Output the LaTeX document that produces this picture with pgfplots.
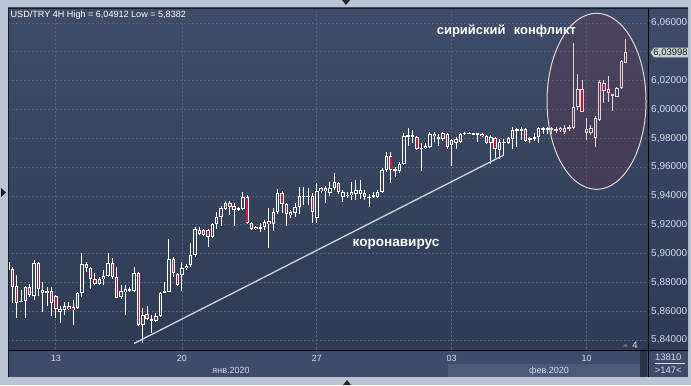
\documentclass[border=0pt]{standalone}
\usepackage{pgfplots}
\pgfplotsset{compat=1.18}
\usepackage{pgfplotstable}
\usepackage{fontspec}
\setmainfont{Liberation Sans}
\definecolor{outer}{HTML}{B9C5D5}
\definecolor{bgtop}{HTML}{3E4C67}
\definecolor{bgbot}{HTML}{2E3B55}
\definecolor{bgmid}{HTML}{38465F}
\definecolor{band}{HTML}{3E4C67}
\definecolor{bandlight}{HTML}{4B5A76}
\definecolor{scrollc}{HTML}{29334A}
\definecolor{gridc}{HTML}{56657F}
\definecolor{lbl}{HTML}{D2DDF0}
\definecolor{bear}{HTML}{E0102F}
\definecolor{ellfill}{RGB}{128,38,62}
\definecolor{ellline}{HTML}{E4D6DA}
\definecolor{trend}{HTML}{D0D2DA}
\definecolor{framec}{HTML}{161C28}
\definecolor{pricebox}{HTML}{CBD0D7}
\definecolor{markc}{HTML}{6A7890}

\pgfplotstableread{
x o h l c
1 5.8886 5.9163 5.8657 5.8941
2 5.8891 5.8909 5.8655 5.8770
3 5.8775 5.8851 5.8553 5.8657
4 5.8667 5.8747 5.8664 5.8674
5 5.8671 5.8775 5.8553 5.8770
6 5.8768 5.8789 5.8698 5.8712
7 5.8705 5.8955 5.8678 5.8936
8 5.8936 5.8943 5.8705 5.8752
9 5.8728 5.8805 5.8596 5.8747
10 5.8728 5.8770 5.8636 5.8742
11 5.8740 5.8770 5.8567 5.8655
12 5.8705 5.8712 5.8553 5.8613
13 5.8617 5.8636 5.8520 5.8596
14 5.8608 5.8666 5.8573 5.8636
15 5.8636 5.8666 5.8608 5.8613
16 5.8627 5.8678 5.8504 5.8608
17 5.8624 5.8735 5.8613 5.8724
18 5.8728 5.9004 5.8701 5.8925
19 5.8925 5.8943 5.8874 5.8898
20 5.8898 5.8909 5.8752 5.8821
21 5.8821 5.8863 5.8785 5.8789
22 5.8789 5.8839 5.8782 5.8821
23 5.8821 5.8886 5.8782 5.8844
24 5.8844 5.9002 5.8839 5.8936
25 5.8936 5.8967 5.8821 5.8839
26 5.8839 5.8909 5.8692 5.8696
27 5.8696 5.8782 5.8689 5.8742
28 5.8735 5.8782 5.8573 5.8752
29 5.8752 5.8770 5.8735 5.8740
30 5.8742 5.8909 5.8735 5.8863
31 5.8863 5.8872 5.8497 5.8504
32 5.8504 5.8624 5.8382 5.8573
33 5.8578 5.8636 5.8539 5.8543
34 5.8539 5.8573 5.8447 5.8543
35 5.8534 5.8585 5.8527 5.8566
36 5.8566 5.8735 5.8560 5.8728
37 5.8728 5.8805 5.8726 5.8740
38 5.8735 5.9099 5.8733 5.8960
39 5.8960 5.8978 5.8839 5.8863
40 5.8856 5.8863 5.8778 5.8782
41 5.8851 5.8943 5.8740 5.8902
42 5.8898 5.8929 5.8886 5.8914
43 5.8921 5.9075 5.8909 5.8990
44 5.8990 5.9186 5.8978 5.9168
45 5.9168 5.9186 5.9129 5.9136
46 5.9129 5.9173 5.9122 5.9163
47 5.9163 5.9168 5.9043 5.9112
48 5.9113 5.9212 5.9108 5.9205
49 5.9205 5.9290 5.9173 5.9256
50 5.9256 5.9330 5.9191 5.9314
51 5.9314 5.9367 5.9302 5.9353
52 5.9353 5.9367 5.9267 5.9325
53 5.9330 5.9349 5.9191 5.9302
54 5.9302 5.9325 5.9298 5.9314
55 5.9307 5.9429 5.9302 5.9395
56 5.9395 5.9406 5.9205 5.9210
57 5.9210 5.9221 5.9163 5.9173
58 5.9185 5.9191 5.9163 5.9170
59 5.9173 5.9210 5.9151 5.9186
60 5.9185 5.9233 5.9163 5.9221
61 5.9226 5.9314 5.9036 5.9205
62 5.9205 5.9314 5.9158 5.9290
63 5.9290 5.9446 5.9279 5.9422
64 5.9422 5.9436 5.9279 5.9344
65 5.9344 5.9349 5.9191 5.9274
66 5.9267 5.9302 5.9244 5.9290
67 5.9284 5.9349 5.9256 5.9321
68 5.9321 5.9464 5.9279 5.9400
69 5.9393 5.9464 5.9337 5.9400
70 5.9393 5.9453 5.9337 5.9400
71 5.9400 5.9418 5.9210 5.9290
72 5.9244 5.9488 5.9210 5.9436
73 5.9436 5.9460 5.9418 5.9453
74 5.9453 5.9469 5.9349 5.9436
75 5.9418 5.9499 5.9400 5.9453
76 5.9453 5.9557 5.9441 5.9494
77 5.9494 5.9499 5.9418 5.9429
78 5.9395 5.9441 5.9360 5.9429
79 5.9402 5.9429 5.9383 5.9406
80 5.9406 5.9499 5.9372 5.9429
81 5.9418 5.9510 5.9372 5.9441
82 5.9418 5.9510 5.9383 5.9441
83 5.9422 5.9441 5.9376 5.9395
84 5.9390 5.9418 5.9325 5.9395
85 5.9395 5.9429 5.9383 5.9406
86 5.9395 5.9441 5.9383 5.9429
87 5.9429 5.9592 5.9422 5.9580
88 5.9580 5.9707 5.9568 5.9677
89 5.9677 5.9707 5.9492 5.9580
90 5.9575 5.9603 5.9533 5.9585
91 5.9575 5.9637 5.9561 5.9622
92 5.9622 5.9839 5.9615 5.9816
93 5.9816 5.9869 5.9746 5.9823
94 5.9811 5.9862 5.9769 5.9823
95 5.9807 5.9816 5.9719 5.9730
96 5.9730 5.9765 5.9575 5.9737
97 5.9730 5.9765 5.9727 5.9746
98 5.9742 5.9846 5.9737 5.9834
99 5.9834 5.9846 5.9776 5.9816
100 5.9811 5.9834 5.9746 5.9800
101 5.9793 5.9846 5.9783 5.9834
102 5.9834 5.9840 5.9724 5.9742
103 5.9753 5.9793 5.9608 5.9788
104 5.9769 5.9807 5.9730 5.9793
105 5.9776 5.9839 5.9769 5.9834
106 5.9832 5.9846 5.9823 5.9837
107 5.9832 5.9846 5.9827 5.9837
108 5.9830 5.9839 5.9827 5.9837
109 5.9830 5.9839 5.9776 5.9834
110 5.9834 5.9839 5.9807 5.9816
111 5.9816 5.9823 5.9760 5.9765
112 5.9765 5.9823 5.9622 5.9807
113 5.9800 5.9807 5.9661 5.9724
114 5.9719 5.9793 5.9654 5.9776
115 5.9769 5.9793 5.9684 5.9776
116 5.9769 5.9811 5.9760 5.9800
117 5.9793 5.9876 5.9724 5.9857
118 5.9857 5.9869 5.9742 5.9862
119 5.9860 5.9880 5.9788 5.9862
120 5.9862 5.9869 5.9776 5.9783
121 5.9788 5.9811 5.9765 5.9800
122 5.9807 5.9834 5.9783 5.9800
123 5.9807 5.9880 5.9769 5.9869
124 5.9866 5.9880 5.9834 5.9869
125 5.9866 5.9880 5.9834 5.9869
126 5.9857 5.9880 5.9834 5.9869
127 5.9862 5.9876 5.9839 5.9853
128 5.9857 5.9880 5.9846 5.9873
129 5.9846 5.9892 5.9834 5.9873
130 5.9869 5.9892 5.9853 5.9880
131 5.9869 6.0459 5.9864 6.0015
132 6.0015 6.0246 5.9996 6.0140
133 6.0140 6.0204 5.9982 5.9984
134 5.9834 5.9939 5.9788 5.9862
135 5.9834 5.9892 5.9823 5.9869
136 5.9800 5.9955 5.9737 5.9939
137 5.9927 6.0204 5.9923 6.0193
138 6.0182 6.0204 6.0043 6.0130
139 6.0140 6.0232 6.0054 6.0116
140 6.0093 6.0107 5.9991 6.0105
141 6.0089 6.0158 6.0086 6.0147
142 6.0147 6.0343 6.0140 6.0336
143 6.0325 6.0491 6.0323 6.0400
}\candles

\begin{document}
\begin{tikzpicture}[x=1bp,y=1bp]
\fill[outer] (0,0) rectangle (691,385);
\fill[band] (8,8) rectangle (688,377);
\shade[top color=bgtop, bottom color=bgbot] (8,35) rectangle (688,377);
\fill[bandlight] (448,8) rectangle (640,21);
\fill[scrollc] (640,8) rectangle (647,34);
\begin{axis}[
  at={(8bp,36bp)}, anchor=south west,
  scale only axis, width=641bp, height=341bp,
  xmin=1.0115, xmax=148.37, ymin=5.83375, ymax=6.07041,
  axis line style={draw=none},
  xtick={12,41,72,103,134}, xticklabels={13,20,27,03,10},
  ytick={5.84,5.86,5.88,5.90,5.92,5.94,5.96,5.98,6.00,6.02,6.06},
  extra y ticks={6.04}, extra y tick labels={},
  extra y tick style={grid=major},
  yticklabel pos=right,
  major tick length=0pt,
  tick style={draw=none},
  grid=major,
  major grid style={gridc, line width=0.8bp, dash pattern=on 2bp off 2bp},
  scaled y ticks=false,
  y tick label style={/pgf/number format/fixed, /pgf/number format/fixed zerofill,
    /pgf/number format/precision=5, /pgf/number format/use comma,
    /pgf/number format/assume math mode=true,
    font=\fontsize{10}{12}\selectfont, text=lbl, anchor=west, inner sep=0pt, xshift=2bp},
  x tick label style={font=\fontsize{9}{11}\selectfont, text=lbl, anchor=center, inner sep=0pt, yshift=-9bp},
]
% wicks
\addplot[draw=none, mark=none, forget plot, error bars/.cd, y dir=both, y explicit, error mark=none,
  error bar style={draw=white, line width=1bp}]
  table[x=x, y expr={(\thisrow{h}+\thisrow{l})/2}, y error expr={(\thisrow{h}-\thisrow{l})/2}] {\candles};
% body outline
\addplot[draw=none, mark=none, forget plot, error bars/.cd, y dir=both, y explicit, error mark=none,
  error bar style={draw=white, line width=3.4bp}]
  table[x=x, y expr={(\thisrow{o}+\thisrow{c})/2}, y error expr={max(abs(\thisrow{o}-\thisrow{c})/2,0.00035)}] {\candles};
% hollow bull bodies
\addplot[draw=none, mark=none, forget plot, error bars/.cd, y dir=both, y explicit, error mark=none,
  error bar style={draw=bgmid, line width=1.4bp}]
  table[x=x, y expr={(\thisrow{o}+\thisrow{c})/2}, y error expr={(\thisrow{c}>\thisrow{o}) ? max(abs(\thisrow{o}-\thisrow{c})/2-0.000694,0) : 0}] {\candles};
% red bear bodies
\addplot[draw=none, mark=none, forget plot, error bars/.cd, y dir=both, y explicit, error mark=none,
  error bar style={draw=bear, line width=1.5bp}]
  table[x=x, y expr={(\thisrow{o}+\thisrow{c})/2}, y error expr={(\thisrow{o}>\thisrow{c}) ? max(abs(\thisrow{o}-\thisrow{c})/2-0.000694,0) : 0}] {\candles};
% trend line
\addplot[trend, line width=1.3bp, mark=none] coordinates {(29.98,5.8376) (115.03,5.9684)};
\end{axis}
% frame lines
\draw[framec, line width=1bp] (8.5,8) -- (8.5,377);
\draw[framec, line width=1bp] (8,376.5) -- (688,376.5);
\draw[black, line width=1bp] (648.5,8) -- (648.5,377);
\draw[black, line width=1bp] (8,34.5) -- (688,34.5);
% ellipse
\fill[ellfill, fill opacity=0.2] (596.5bp,283.7bp) ellipse [x radius=49.5bp, y radius=88bp];
\draw[ellline, line width=1bp] (596.5bp,283.7bp) ellipse [x radius=49.5bp, y radius=88bp];
% annotations
\node[anchor=base west, inner sep=0pt, text=white, font=\bfseries\fontsize{13}{15}\selectfont] at (436.7,351) {сирийский\hspace{0.65em}конфликт};
\node[anchor=base west, inner sep=0pt, text=white, font=\bfseries\fontsize{13.6}{15}\selectfont] at (352.5,138.3) {коронавирус};
% title
\node[anchor=base west, inner sep=0pt, text=white, font=\fontsize{9.1}{11}\selectfont] at (10.5,367.3) {USD/TRY 4H High = 6,04912 Low = 5,8382};
% month labels
\node[anchor=base, inner sep=0pt, text=lbl, font=\fontsize{9}{11}\selectfont] at (231,11.7) {янв.2020};
\node[anchor=base, inner sep=0pt, text=lbl, font=\fontsize{9}{11}\selectfont] at (549,11.7) {фев.2020};
% bottom right box
\node[anchor=base, inner sep=0pt, text=lbl, font=\fontsize{9.5}{11}\selectfont] at (668.3,24.3) {13810};
\draw[lbl, line width=0.8bp] (655,21.5) -- (685,21.5);
\node[anchor=base, inner sep=0pt, text=lbl, font=\fontsize{9.5}{11}\selectfont] at (668.3,11.7) {>147<};
% small "4" marker
\fill[markc] (622.7,38.3) -- (628,38.3) -- (625.35,41) -- cycle;
\node[anchor=base, inner sep=0pt, text=lbl, font=\fontsize{9.5}{11}\selectfont] at (635,36.3) {4};
% price box
\fill[pricebox] (650.7,332.5) -- (654,337.3) -- (688,337.3) -- (688,327.7) -- (654,327.7) -- cycle;
\node[inner sep=0pt, text=black!90, font=\fontsize{9.5}{11}\selectfont] at (670.5,332.4) {6,03998};
% scroll triangles
\fill[black!85] (342,385) -- (350,385) -- (346,380) -- cycle;
\fill[black!85] (343,0) -- (351,0) -- (347,5) -- cycle;
\fill[framec] (1,197) -- (1,188) -- (6,192.5) -- cycle;
\pgfresetboundingbox
\useasboundingbox (0,0) rectangle (691,385);
\end{tikzpicture}
\end{document}
